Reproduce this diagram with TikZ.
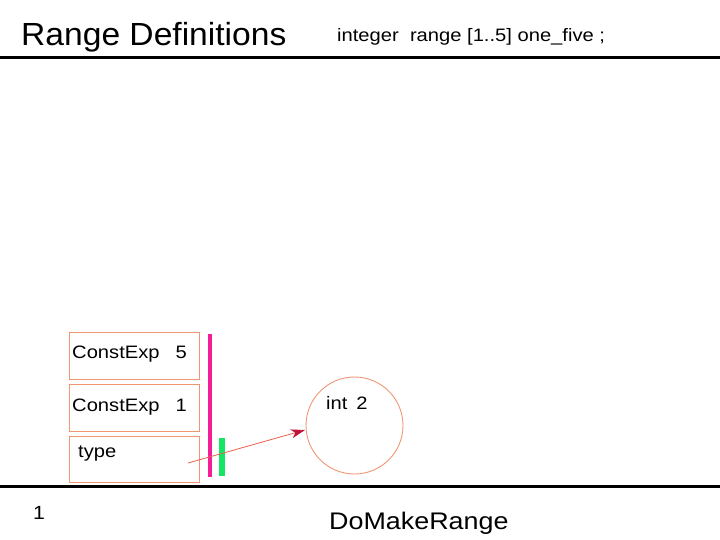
\documentclass[tikz,border=0pt]{standalone}
\usepackage{fontspec}
\setmainfont[FakeStretch=1.12]{Liberation Sans}
\newfontfamily\titlefont[FakeStretch=1.05]{Liberation Sans}
\usetikzlibrary{arrows.meta}
\definecolor{boxc}{RGB}{240,150,115}
\definecolor{barm}{RGB}{245,30,150}
\definecolor{barg}{RGB}{20,230,100}
\definecolor{arrc}{RGB}{235,95,75}
\definecolor{tipc}{RGB}{190,20,60}
\tikzset{
  fbox/.style={draw=boxc, line width=0.9pt, minimum width=130pt, minimum height=47pt, anchor=north west},
  btext/.style={font=\fontsize{18pt}{20pt}\selectfont, anchor=base west, inner sep=0pt},
  ptext/.style={anchor=base west, inner sep=0pt},
}
\begin{document}
\begin{tikzpicture}[x=1pt,y=-1pt]
\useasboundingbox (0,0) rectangle (720,540);
% rules
\draw[line width=3pt] (0,58) -- (720,58);
\draw[line width=3pt] (0,486) -- (720,486);
% titles
\node[ptext, font=\titlefont\fontsize{32pt}{36pt}\selectfont] (title) at (21,46) {Range Definitions};
\node[ptext, font=\fontsize{18pt}{20pt}\selectfont] (decl) at (337,42) {integer\ \ range [1..5] one\_five ;};
\node[ptext, font=\fontsize{19pt}{21pt}\selectfont] (pg) at (33,519) {1};
\node[ptext, font=\fontsize{24pt}{28pt}\selectfont] (fn) at (329,529) {DoMakeRange};
% boxes
\node[fbox] (b1) at (69,332) {};
\node[fbox] (b2) at (69,384) {};
\node[fbox, minimum height=46pt] (b3) at (69,436) {};
\node[btext] (t1) at (72,358) {ConstExp\hspace{16pt}5};
\node[btext] (t2) at (72,411) {ConstExp\hspace{16pt}1};
\node[btext] (t3) at (78,457) {type};
% bars
\fill[barm] (208,334) rectangle (212,477);
\fill[barg] (219,438) rectangle (225,476);
% circle
\node[draw=boxc, line width=0.9pt, circle, minimum size=97pt, inner sep=0pt] (c) at (354.5,425.5) {};
\node[btext] (ct) at (326,409) {int\hspace{9pt}2};
% arrow
\coordinate (s) at (188,463);
\coordinate (e) at (305,430);
\draw[arrc, line width=0.8pt, -{Stealth[length=14pt,width=9pt,inset=4pt,fill=tipc,color=tipc]}] (s) -- (e);
\end{tikzpicture}
\end{document}
